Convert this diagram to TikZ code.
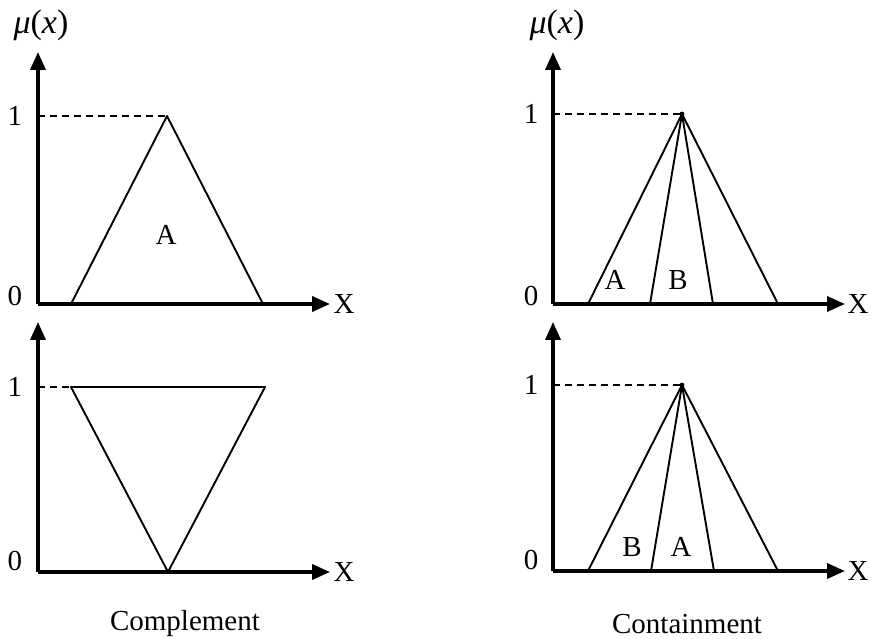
\documentclass[tikz,border=0pt]{standalone}
\usepackage{fontspec}
\setmainfont{Liberation Serif}
\usetikzlibrary{arrows.meta}
\begin{document}
\begin{tikzpicture}[x=1pt,y=-1pt,
  axis/.style={line width=3.6pt,-{Triangle[length=18pt,width=15pt]}},
  curve/.style={line width=1.9pt,line join=round},
  guide/.style={line width=1.7pt,dash pattern=on 7pt off 5pt},
  lbl/.style={font=\fontsize{29}{32}\selectfont,inner sep=0pt},
  mulbl/.style={font=\fontsize{34}{36}\selectfont,inner sep=0pt}]
\useasboundingbox (0,0) rectangle (871,639);
% ---------- top left ----------
\coordinate (o1) at (38,304);
\coordinate (y1) at (38,52);
\coordinate (x1) at (330,304);
\draw[axis] (o1) -- (y1);
\draw[axis] (o1) -- (x1);
\node[mulbl] (mu1) at (41,25) {\textit{μ}(\textit{x})};
\node[lbl] (one1) at (15,116) {1};
\node[lbl] (zero1) at (15,296) {0};
\node[lbl] (X1) at (344,304) {X};
\coordinate (d1) at (38,116);
\coordinate (p1) at (167,116);
\coordinate (a1) at (71,304);
\coordinate (b1) at (263,304);
\draw[guide] (d1) -- (p1);
\draw[curve] (a1) -- (p1) -- (b1);
\node[lbl] (A1) at (166,235) {A};
% ---------- bottom left ----------
\coordinate (o2) at (38,572);
\coordinate (y2) at (38,322);
\coordinate (x2) at (330,572);
\draw[axis] (o2) -- (y2);
\draw[axis] (o2) -- (x2);
\node[lbl] (one2) at (15,387) {1};
\node[lbl] (zero2) at (15,561) {0};
\node[lbl] (X2) at (344,572) {X};
\coordinate (d2) at (38,387);
\coordinate (l2) at (71,387);
\coordinate (r2) at (265,387);
\coordinate (v2) at (168,572);
\draw[guide] (d2) -- (l2);
\draw[curve] (l2) -- (r2) -- (v2) -- cycle;
\node[lbl] (comp) at (185,624) {Complement};
% ---------- top right ----------
\coordinate (o3) at (553,304);
\coordinate (y3) at (553,52);
\coordinate (x3) at (845,304);
\draw[axis] (o3) -- (y3);
\draw[axis] (o3) -- (x3);
\node[mulbl] (mu3) at (557,25) {\textit{μ}(\textit{x})};
\node[lbl] (one3) at (531,114) {1};
\node[lbl] (zero3) at (531,296) {0};
\node[lbl] (X3) at (858,304) {X};
\coordinate (d3) at (553,114);
\coordinate (p3) at (682,114);
\coordinate (b31) at (588,304);
\coordinate (b32) at (650,304);
\coordinate (b33) at (713,304);
\coordinate (b34) at (778,304);
\draw[guide] (d3) -- (p3);
\draw[curve] (b31) -- (p3) -- (b34);
\draw[curve] (b32) -- (p3) -- (b33);
\fill (p3) circle (2.4pt);
\node[lbl] (A3) at (615,280) {A};
\node[lbl] (B3) at (678,280) {B};
% ---------- bottom right ----------
\coordinate (o4) at (553,571);
\coordinate (y4) at (553,322);
\coordinate (x4) at (845,571);
\draw[axis] (o4) -- (y4);
\draw[axis] (o4) -- (x4);
\node[lbl] (one4) at (531,385) {1};
\node[lbl] (zero4) at (531,560) {0};
\node[lbl] (X4) at (858,571) {X};
\coordinate (d4) at (553,385);
\coordinate (p4) at (682,385);
\coordinate (b41) at (588,571);
\coordinate (b42) at (651,571);
\coordinate (b43) at (714,571);
\coordinate (b44) at (778,571);
\draw[guide] (d4) -- (p4);
\draw[curve] (b41) -- (p4) -- (b44);
\draw[curve] (b42) -- (p4) -- (b43);
\fill (p4) circle (2.4pt);
\node[lbl] (B4) at (632,547) {B};
\node[lbl] (A4) at (681,547) {A};
\node[lbl] (cont) at (687,624) {Containment};
\end{tikzpicture}
\end{document}
